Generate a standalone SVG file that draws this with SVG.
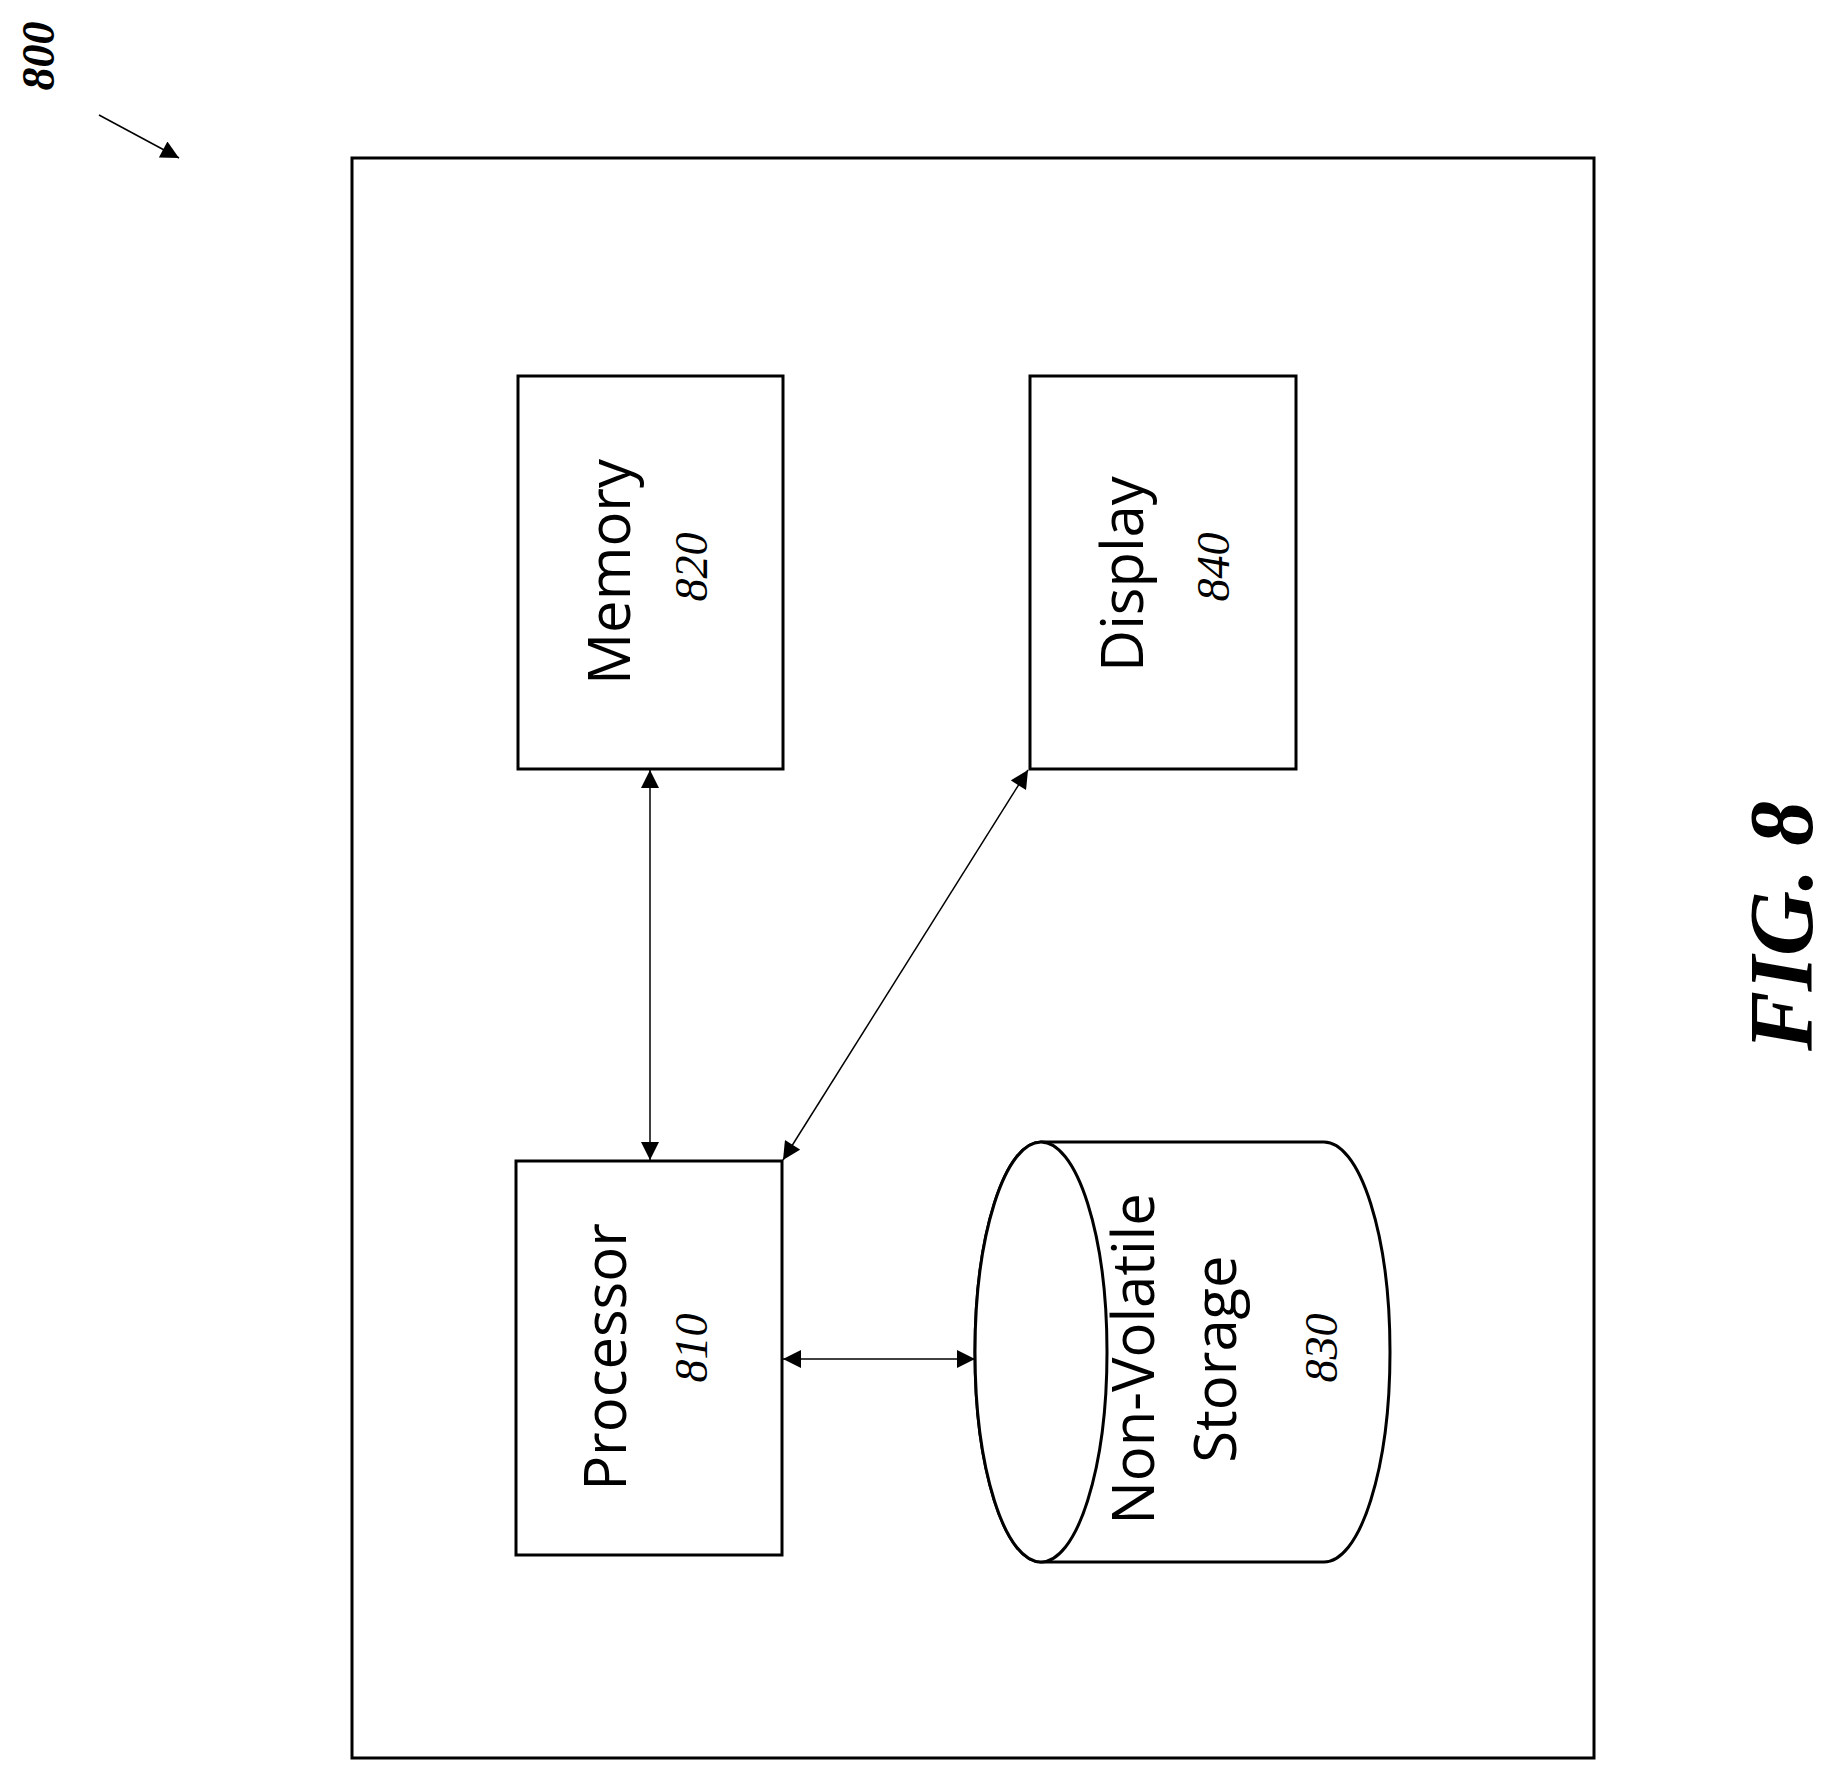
<svg xmlns="http://www.w3.org/2000/svg" width="1829" height="1773" viewBox="0 0 1829 1773">
<style>
.b{fill:#fff;stroke:#000;stroke-width:3}
.l{fill:none;stroke:#000;stroke-width:1.5}
.t{font-family:"Open Sans","Liberation Sans",sans-serif;font-size:58px;text-anchor:middle;dominant-baseline:central}
.n{font-family:"Liberation Serif",serif;font-style:italic;font-size:46px;text-anchor:middle;dominant-baseline:central}
</style>
<defs>
<marker id="a" viewBox="0 0 10 10" refX="10" refY="5" markerWidth="20" markerHeight="18" markerUnits="userSpaceOnUse" orient="auto-start-reverse"><path d="M0,0L10,5L0,10z"/></marker>
</defs>
<rect width="1829" height="1773" fill="#fff"/>
<g id="label800">
<text class="n" font-weight="bold" transform="translate(38,56) rotate(-90)">800</text>
<line x1="99" y1="115" x2="179" y2="158" stroke="#000" stroke-width="1.5" marker-end="url(#a)"/>
</g>
<g id="frame"><rect x="352" y="158" width="1242" height="1600" class="b"/></g>
<g id="memory"><rect x="518" y="376" width="265" height="393" class="b"/>
<text class="t" transform="translate(607,572) rotate(-90)">Memory</text>
<text class="n" transform="translate(691,567) rotate(-90)">820</text></g>
<g id="display"><rect x="1030" y="376" width="266" height="393" class="b"/>
<text class="t" transform="translate(1120,574) rotate(-90)">Display</text>
<text class="n" transform="translate(1213,567) rotate(-90)">840</text></g>
<g id="processor"><rect x="516" y="1161" width="266" height="394" class="b"/>
<text class="t" transform="translate(603,1357) rotate(-90)">Processor</text>
<text class="n" transform="translate(691,1348) rotate(-90)">810</text></g>
<g id="storage">
<path class="b" d="M1041,1142 H1324 A66,210 0 0 1 1324,1562 H1041 A66,210 0 0 1 1041,1142 Z"/>
<ellipse class="b" cx="1041" cy="1352" rx="66" ry="210" fill="none"/>
<text class="t" transform="translate(1131,1359) rotate(-90)">Non-Volatile</text>
<text class="t" transform="translate(1213,1359) rotate(-90)">Storage</text>
<text class="n" transform="translate(1321,1348) rotate(-90)">830</text></g>
<g id="connectors">
<line class="l" x1="650" y1="770" x2="650" y2="1160" marker-start="url(#a)" marker-end="url(#a)"/>
<line class="l" x1="1028" y1="770" x2="783" y2="1160" marker-start="url(#a)" marker-end="url(#a)"/>
<line class="l" x1="783" y1="1359" x2="975" y2="1359" marker-start="url(#a)" marker-end="url(#a)"/>
</g>
<text font-family="Liberation Serif,serif" font-style="italic" font-weight="bold" font-size="90" text-anchor="middle" dominant-baseline="central" transform="translate(1781,926) rotate(-90)">FIG. 8</text>
</svg>
